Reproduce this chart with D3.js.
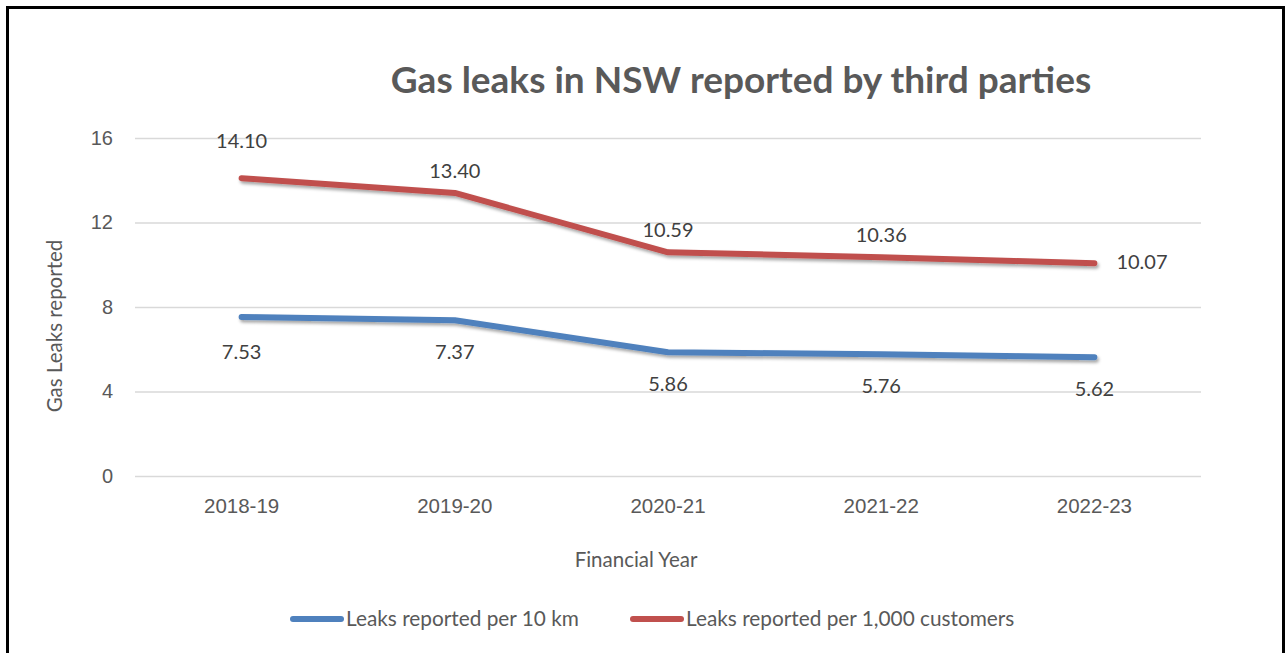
<!DOCTYPE html>
<html>
<head>
<meta charset="utf-8">
<script src="https://cdn.jsdelivr.net/npm/d3@7"></script>
<style>
  body { margin: 0; background: #fff; }
  svg { display: block; font-family: Lato, "Open Sans", sans-serif; }
</style>
</head>
<body>
<div id="chart"></div>
<script>
// data
var years = ["2018-19", "2019-20", "2020-21", "2021-22", "2022-23"]
var per10km = [7.53, 7.37, 5.86, 5.76, 5.62]
var perCustomers = [14.10, 13.40, 10.59, 10.36, 10.07]
var yTicks = [0, 4, 8, 12, 16]
var seriesNames = ["Leaks reported per 10 km", "Leaks reported per 1,000 customers"]

var W = 1288, H = 653
var margin = {top: 138, right: 87, bottom: 177, left: 135},
    width = W - margin.left - margin.right,
    height = H - margin.top - margin.bottom

var svg = d3.select("#chart").append("svg")
    .attr("width", W)
    .attr("height", H)

// drop shadow like the office chart
var defs = svg.append("defs")
var f = defs.append("filter").attr("id", "shadow")
    .attr("x", "-5%").attr("y", "-20%").attr("width", "110%").attr("height", "160%")
f.append("feDropShadow")
    .attr("dx", 1.5).attr("dy", 2.5).attr("stdDeviation", 1.6)
    .attr("flood-color", "#000").attr("flood-opacity", 0.35)

// frame
svg.append("rect")
    .attr("x", 7.5).attr("y", 7.5)
    .attr("width", 1276).attr("height", 660)
    .attr("fill", "none").attr("stroke", "#000").attr("stroke-width", 3)

var g = svg.append("g")
    .attr("transform", "translate(" + margin.left + "," + margin.top + ")")

var x = d3.scaleBand().domain(years).range([0, width])
var y = d3.scaleLinear().domain([0, 16]).range([height, 0])

// gridlines + y axis
var yaxis = g.append("g")
    .call(d3.axisLeft(y).tickValues(yTicks).tickSize(-width).tickPadding(22).tickFormat(d3.format("d")))
yaxis.select(".domain").remove()
yaxis.selectAll("line").attr("stroke", "#d9d9d9").attr("stroke-width", 1.5)
yaxis.selectAll("text").attr("fill", "#595959").style("font-size", "20px")

// x axis
var xaxis = g.append("g")
    .attr("transform", "translate(0," + height + ")")
    .call(d3.axisBottom(x).tickSize(0).tickPadding(22))
xaxis.select(".domain").remove()
xaxis.selectAll("text").attr("fill", "#595959").style("font-size", "20.5px")

// titles
svg.append("text")
    .attr("x", 741).attr("y", 93)
    .attr("text-anchor", "middle")
    .attr("fill", "#595959")
    .style("font-size", "37px").style("font-weight", "bold")
    .text("Gas leaks in NSW reported by third parties")

svg.append("text")
    .attr("x", 636).attr("y", 567)
    .attr("text-anchor", "middle")
    .attr("fill", "#595959")
    .style("font-size", "20.5px")
    .text("Financial Year")

svg.append("text")
    .attr("transform", "translate(62,326) rotate(-90)")
    .attr("text-anchor", "middle")
    .attr("fill", "#595959")
    .style("font-size", "20.5px")
    .text("Gas Leaks reported")

var series = [
  {name: seriesNames[0], vals: per10km, color: "#4f81bd", below: true},
  {name: seriesNames[1], vals: perCustomers, color: "#c0504d", below: false}
]

var line = d3.line()
    .x(function(d, i) { return x(years[i]) + x.bandwidth() / 2 })
    .y(function(d) { return y(d) })

series.forEach(function(s) {
  g.append("path")
    .attr("d", line(s.vals))
    .attr("fill", "none")
    .attr("stroke", s.color)
    .attr("stroke-width", 6)
    .attr("stroke-linecap", "round")
    .attr("stroke-linejoin", "round")
    .attr("filter", "url(#shadow)")
})

// data labels (blue below, red above, last red one to the right)
var fmt = d3.format(".2f")
series.forEach(function(s) {
  var n = s.vals.length
  g.selectAll(null)
    .data(s.vals)
    .enter().append("text")
    .attr("x", function(d, i) {
      var cx = x(years[i]) + x.bandwidth() / 2
      if (!s.below && i == n - 1) return cx + 22
      return cx
    })
    .attr("y", function(d, i) {
      if (!s.below && i == n - 1) return y(d) + 6
      if (s.below) return y(d) + (i == 0 ? 42 : 39)
      return y(d) - (i == 0 ? 30 : 15)
    })
    .attr("text-anchor", function(d, i) { return (!s.below && i == n - 1) ? "start" : "middle" })
    .attr("fill", "#404040")
    .style("font-size", "20px")
    .text(fmt)
})

// legend
var legend = svg.append("g").attr("transform", "translate(0,619)")
var lx = [293, 633]
series.forEach(function(s, i) {
  legend.append("line")
    .attr("x1", lx[i]).attr("x2", lx[i] + 48)
    .attr("y1", 0).attr("y2", 0)
    .attr("stroke", s.color).attr("stroke-width", 6)
    .attr("stroke-linecap", "round")
  legend.append("text")
    .attr("x", lx[i] + 53).attr("y", 7)
    .attr("fill", "#595959")
    .style("font-size", "20.8px")
    .text(s.name)
})
</script>
</body>
</html>
